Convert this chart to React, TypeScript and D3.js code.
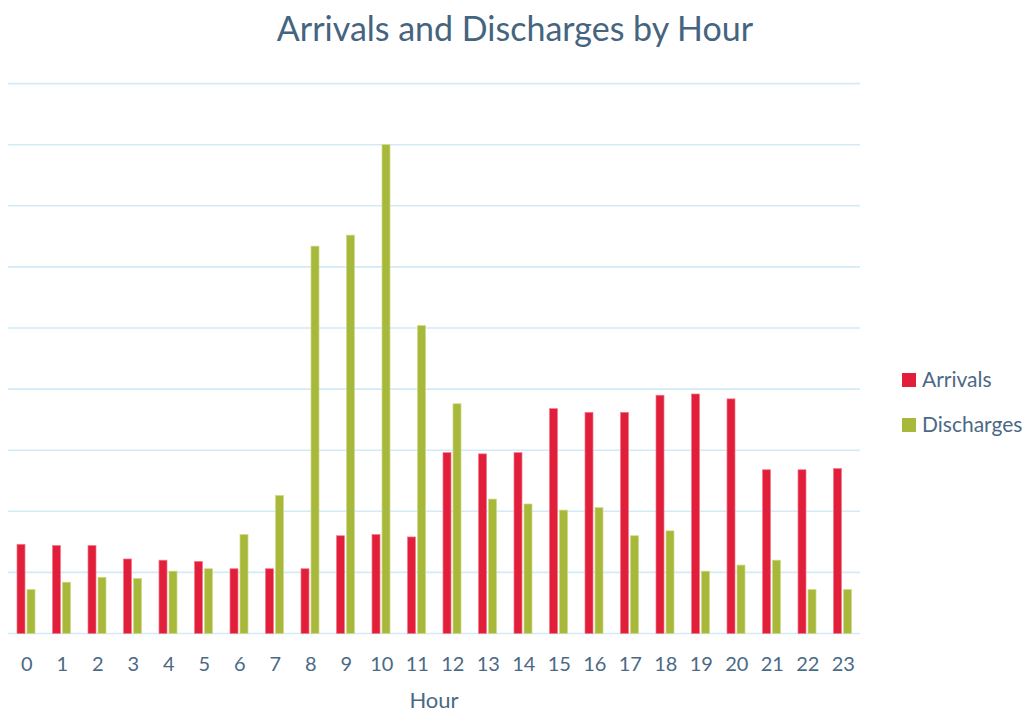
import React from 'react';
import * as d3 from 'd3';

const hours = ['0', '1', '2', '3', '4', '5', '6', '7', '8', '9', '10', '11', '12', '13', '14', '15', '16', '17', '18', '19', '20', '21', '22', '23'];
const arrivals = [7.3, 7.2, 7.2, 6.1, 6.0, 5.9, 5.3, 5.3, 5.3, 8.0, 8.1, 7.9, 14.8, 14.7, 14.8, 18.4, 18.1, 18.1, 19.5, 19.6, 19.2, 13.4, 13.4, 13.5];
const discharges = [3.6, 4.2, 4.6, 4.5, 5.1, 5.3, 8.1, 11.3, 31.7, 32.6, 40.0, 25.2, 18.8, 11.0, 10.6, 10.1, 10.3, 8.0, 8.4, 5.1, 5.6, 6.0, 3.6, 3.6];
const seriesNames = ['Arrivals', 'Discharges'];
const yTicks = [0, 5, 10, 15, 20, 25, 30, 35, 40, 45];

const W = 1027;
const H = 714;
const FONT = 'Lato, "Open Sans", sans-serif';
const TEXT = '#4b6985';
const colors = { Arrivals: '#e21f3a', Discharges: '#a8b83b' };
const edges = { Arrivals: '#f27a8b', Discharges: '#cfdb86' };

export default function App() {
  const x = d3.scaleBand().domain(hours).range([8, 860]);
  const xs = d3.scaleBand().domain(seriesNames).range([9, 27]).paddingInner(0.2);
  const y = d3.scaleLinear().domain([0, 45]).range([633.5, 83.6]);

  const rows = hours.map((h, i) => ({ h, Arrivals: arrivals[i], Discharges: discharges[i] }));

  return (
    <svg width={W} height={H} style={{ position: 'absolute', left: 0, top: 0, background: '#fff' }} fontFamily={FONT}>
      <text x={515} y={41} textAnchor="middle" fontSize={34} fill="#44647f">
        Arrivals and Discharges by Hour
      </text>

      <g>
        {yTicks.map((t) => (
          <line key={t} x1={8} x2={860} y1={y(t)} y2={y(t)} stroke="#d3eaf7" strokeWidth={1.6} />
        ))}
      </g>

      <g>
        {rows.map((r) => (
          <g key={r.h} transform={`translate(${x(r.h)},0)`}>
            {seriesNames.map((s) => (
              <rect
                key={s}
                x={xs(s)}
                width={xs.bandwidth()}
                y={y(r[s])}
                height={y(0) - y(r[s])}
                fill={colors[s]}
                stroke={edges[s]}
                strokeWidth={0.7}
              />
            ))}
          </g>
        ))}
      </g>

      <g>
        {hours.map((h) => (
          <text key={h} x={x(h) + x.bandwidth() / 2 + 1} y={671} textAnchor="middle" fontSize={20} fill={TEXT}>
            {h}
          </text>
        ))}
      </g>

      <text x={434} y={708} textAnchor="middle" fontSize={22} fill={TEXT}>
        Hour
      </text>

      <g>
        {seriesNames.map((s, i) => (
          <g key={s} transform={`translate(902,${373 + i * 45})`}>
            <rect width={14} height={14} fill={colors[s]} />
            <text x={20} y={14} fontSize={21} fill={TEXT}>
              {s}
            </text>
          </g>
        ))}
      </g>
    </svg>
  );
}
